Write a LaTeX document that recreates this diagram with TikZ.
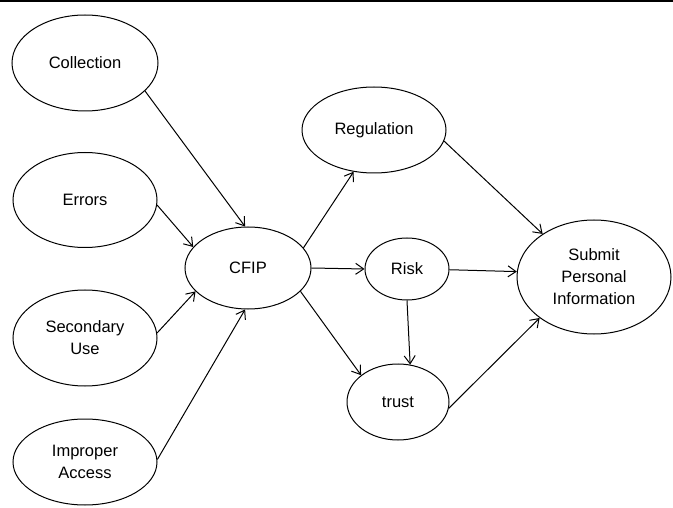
\documentclass[tikz,border=0pt]{standalone}
\usepackage{fontspec}
\setmainfont{Liberation Sans}
\usetikzlibrary{shapes.geometric,arrows.meta}

\begin{document}
\begin{tikzpicture}[x=1pt, y=-1pt, line width=1pt,
  every node/.style={font=\fontsize{16.5}{22}\selectfont, align=center},
  var/.style={draw, ellipse, inner sep=0pt},
  >={Straight Barb[length=8pt,width=11pt]}]
  \useasboundingbox (0,0) rectangle (673,508);
  \draw[line width=2pt] (0,1) -- (673,1);
  \node[var, minimum width=146, minimum height=96] (coll) at (85,63) {Collection};
  \node[var, minimum width=144, minimum height=95] (err) at (85,200) {Errors};
  \node[var, minimum width=144, minimum height=96] (sec) at (85,338) {Secondary\\Use};
  \node[var, minimum width=144, minimum height=86] (imp) at (85,462) {Improper\\Access};
  \node[var, minimum width=126, minimum height=82] (cfip) at (248,268) {CFIP};
  \node[var, minimum width=144, minimum height=86] (reg) at (374,130) {Regulation};
  \node[var, minimum width=84, minimum height=62] (risk) at (407,269) {Risk};
  \node[var, minimum width=102, minimum height=76] (trust) at (398,402) {trust};
  \node[var, minimum width=154, minimum height=114] (spi) at (594,277) {Submit\\Personal\\Information};
  \foreach \a/\b in {coll.-25/cfip.94, err.-4/cfip.159, sec.4/cfip.204, imp.2/cfip.266,
      cfip.20/reg.244, cfip.0/risk.180, cfip.-24/trust.144, reg.-9/spi.140,
      risk.-1/spi.176, risk.270/trust.72, trust.-7/spi.217}
    \draw[->] (\a) -- (\b);
\end{tikzpicture}
\end{document}
